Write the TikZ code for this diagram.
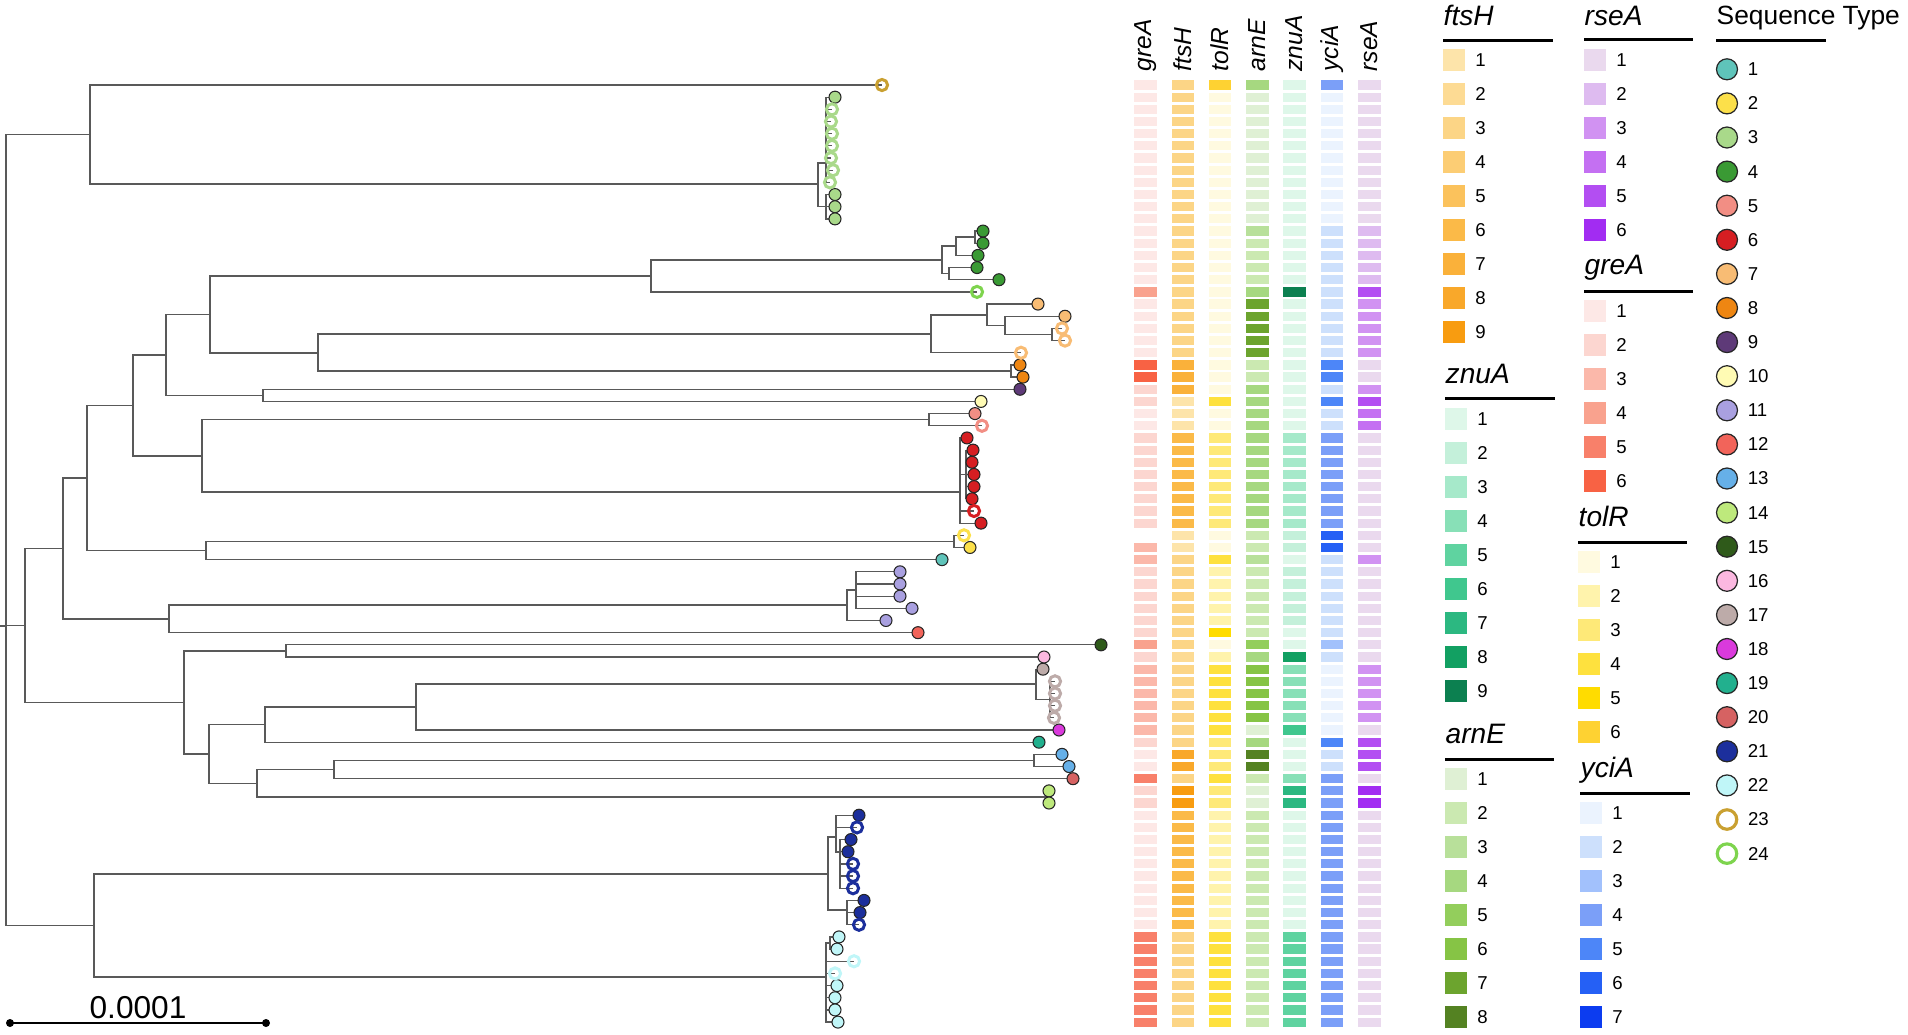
\documentclass[tikz,border=0pt]{standalone}
\usepackage{fontspec}
\setmainfont{Liberation Sans}
\usetikzlibrary{positioning}

\definecolor{st1}{HTML}{5FC4BA}
\definecolor{st2}{HTML}{FCE04A}
\definecolor{st3}{HTML}{A9D98A}
\definecolor{st4}{HTML}{3A9A34}
\definecolor{st5}{HTML}{F28E84}
\definecolor{st6}{HTML}{D61E22}
\definecolor{st7}{HTML}{F8BC74}
\definecolor{st8}{HTML}{EE8612}
\definecolor{st9}{HTML}{5E3A78}
\definecolor{st10}{HTML}{FFFBB4}
\definecolor{st11}{HTML}{A9A0E0}
\definecolor{st12}{HTML}{F2645A}
\definecolor{st13}{HTML}{66B0E8}
\definecolor{st14}{HTML}{BEE97C}
\definecolor{st15}{HTML}{2F5A1A}
\definecolor{st16}{HTML}{FBB8E0}
\definecolor{st17}{HTML}{BDABA9}
\definecolor{st18}{HTML}{DA3ADC}
\definecolor{st19}{HTML}{22B08E}
\definecolor{st20}{HTML}{D66262}
\definecolor{st21}{HTML}{1C2F9C}
\definecolor{st22}{HTML}{C0F6F8}
\definecolor{st23}{HTML}{C9A031}
\definecolor{st24}{HTML}{7ED44E}

\definecolor{fts1}{HTML}{FDE4AA}
\definecolor{fts2}{HTML}{FDDB94}
\definecolor{fts3}{HTML}{FCD586}
\definecolor{fts4}{HTML}{FCCD74}
\definecolor{fts5}{HTML}{FBC25C}
\definecolor{fts6}{HTML}{FBBA48}
\definecolor{fts7}{HTML}{FAB13A}
\definecolor{fts8}{HTML}{F9A82A}
\definecolor{fts9}{HTML}{F89C10}
\definecolor{rse1}{HTML}{EAD9EE}
\definecolor{rse2}{HTML}{DEBBF0}
\definecolor{rse3}{HTML}{D192F2}
\definecolor{rse4}{HTML}{C470F2}
\definecolor{rse5}{HTML}{B34EF2}
\definecolor{rse6}{HTML}{A22CF2}
\definecolor{gre1}{HTML}{FDE8E6}
\definecolor{gre2}{HTML}{FCD6D0}
\definecolor{gre3}{HTML}{FBB8AA}
\definecolor{gre4}{HTML}{F9A28E}
\definecolor{gre5}{HTML}{F8806A}
\definecolor{gre6}{HTML}{F86244}
\definecolor{znu1}{HTML}{DEF7E9}
\definecolor{znu2}{HTML}{C4F0DA}
\definecolor{znu3}{HTML}{A6E9CA}
\definecolor{znu4}{HTML}{88E0B7}
\definecolor{znu5}{HTML}{5FD3A0}
\definecolor{znu6}{HTML}{40C78E}
\definecolor{znu7}{HTML}{2CB881}
\definecolor{znu8}{HTML}{12A062}
\definecolor{znu9}{HTML}{0C8050}
\definecolor{tol1}{HTML}{FFFAE0}
\definecolor{tol2}{HTML}{FFF3AC}
\definecolor{tol3}{HTML}{FEE978}
\definecolor{tol4}{HTML}{FEE13E}
\definecolor{tol5}{HTML}{FFDC00}
\definecolor{tol6}{HTML}{FED232}
\definecolor{arn1}{HTML}{DFF0D4}
\definecolor{arn2}{HTML}{CBE9B1}
\definecolor{arn3}{HTML}{B8E09A}
\definecolor{arn4}{HTML}{A6D880}
\definecolor{arn5}{HTML}{93CE5C}
\definecolor{arn6}{HTML}{86C445}
\definecolor{arn7}{HTML}{6CA42E}
\definecolor{arn8}{HTML}{548222}
\definecolor{yci1}{HTML}{EBF3FE}
\definecolor{yci2}{HTML}{CDE0FC}
\definecolor{yci3}{HTML}{A2C1FC}
\definecolor{yci4}{HTML}{7B9FF8}
\definecolor{yci5}{HTML}{4D86F8}
\definecolor{yci6}{HTML}{2560F5}
\definecolor{yci7}{HTML}{0C3CF0}

\begin{document}
\begin{tikzpicture}[x=0.1mm,y=-0.1mm]

\tikzstyle{branch} = [draw=black!65, line width=0.35pt]
\tikzstyle{leaf} = [circle, inner sep=0pt, minimum size=1.2mm, draw=black!85, line width=0.3pt]
\tikzstyle{ring} = [circle, inner sep=0pt, minimum size=1.12mm, line width=0.85pt]
\tikzstyle{cell} = [rectangle, inner sep=0pt, minimum width=2.25mm, minimum height=0.92mm]
\tikzstyle{gene} = [font=\fontsize{7}{8}\selectfont\itshape, inner sep=0pt]
\tikzstyle{ltitle} = [font=\fontsize{8}{9}\selectfont\itshape, inner sep=0pt, anchor=base west]
\tikzstyle{lsq} = [rectangle, inner sep=0pt, minimum size=2.2mm]
\tikzstyle{num} = [font=\fontsize{5.3}{6}\selectfont, inner sep=0pt]
\tikzstyle{uline} = [line width=0.85pt]
\tikzstyle{ldot} = [circle, inner sep=0pt, minimum size=2.1mm, draw=black!85, line width=0.35pt]
\tikzstyle{lring} = [circle, inner sep=0pt, minimum size=1.95mm, line width=0.9pt]

\useasboundingbox (0,0) rectangle (1908,1034);

% tips
\foreach \r/\x in {1/882, 2/835, 3/832, 4/831, 5/832, 6/832, 7/831, 8/833, 9/830, 10/835,
  11/835, 12/835, 13/983, 14/983, 15/978, 16/977, 17/999, 18/977, 19/1038, 20/1065,
  21/1062, 22/1065, 23/1021, 24/1020, 25/1023, 26/1020, 27/981, 28/975, 29/982, 30/967,
  31/973, 32/972, 33/974, 34/974, 35/972, 36/974, 37/981, 38/964, 39/970, 40/942,
  41/900, 42/900, 43/900, 44/912, 45/886, 46/918, 47/1101, 48/1044, 49/1043, 50/1055,
  51/1055, 52/1055, 53/1054, 54/1059, 55/1039, 56/1062, 57/1069, 58/1073, 59/1049, 60/1049,
  61/859, 62/857, 63/851, 64/848, 65/853, 66/853, 67/853, 68/864, 69/860, 70/859,
  71/839, 72/837, 73/854, 74/835, 75/837, 76/835, 77/835, 78/838}
  \coordinate (l\r) at (\x, {85+(\r-1)*12.17});

% inner nodes
\coordinate (rt0) at (0, 626);
\coordinate (rt) at (6, 626);
\coordinate (tc) at (90, 134.5);
\coordinate (u) at (818, 184);
\coordinate (v) at (826, 163);
\coordinate (w) at (826, 206.7);
\coordinate (na) at (25, 625.5);
\coordinate (nb) at (63, 548.5);
\coordinate (nc) at (87, 478);
\coordinate (ne) at (133, 405.5);
\coordinate (ng) at (166, 355);
\coordinate (ni) at (210, 314.5);
\coordinate (nk) at (651, 276);
\coordinate (x1) at (942, 260);
\coordinate (x2) at (956, 246);
\coordinate (x3) at (975, 237);
\coordinate (x4) at (949, 273.7);
\coordinate (nj) at (318, 353);
\coordinate (y1) at (931, 334);
\coordinate (y2) at (987, 315);
\coordinate (y3) at (1005, 325.5);
\coordinate (y4) at (1052, 334.5);
\coordinate (y5) at (1011, 371);
\coordinate (nh) at (263, 395.4);
\coordinate (nf) at (202, 456);
\coordinate (z1) at (929, 419.7);
\coordinate (z2) at (960, 492);
\coordinate (z3) at (966, 474.4);
\coordinate (nd) at (206, 550.5);
\coordinate (z4) at (954, 541.4);
\coordinate (nb2) at (169, 619);
\coordinate (z5) at (847, 605);
\coordinate (z6) at (856, 590);
\coordinate (nm) at (184, 702.5);
\coordinate (nn) at (286, 651);
\coordinate (no) at (209, 754);
\coordinate (np) at (265, 724.6);
\coordinate (nq) at (416, 707);
\coordinate (q1) at (1036, 684);
\coordinate (q2) at (1050, 699.6);
\coordinate (nr) at (257, 783.3);
\coordinate (ns) at (334, 769.6);
\coordinate (s1) at (1034, 760.5);
\coordinate (s2) at (1046, 797);
\coordinate (nt) at (94, 925.5);
\coordinate (t1) at (828, 874);
\coordinate (t2) at (836, 837);
\coordinate (t4) at (840, 852);
\coordinate (t3) at (847, 910);
\coordinate (t5) at (826, 977);
\coordinate (t6) at (830, 943);

\draw[branch] (rt0) -- (rt);
\foreach \p/\c in {rt/tc, rt/na, rt/nt, tc/l1, tc/u, u/v, u/w,
  v/l2, v/l3, v/l4, v/l5, v/l6, v/l7, v/l8, v/l9, w/l10, w/l11, w/l12,
  na/nb, na/nm, nb/nc, nb/nb2, nc/ne, nc/nd, ne/ng, ne/nf, ng/ni, ng/nh,
  ni/nk, ni/nj, nk/x1, nk/l18, x1/x2, x1/x4, x2/x3, x2/l15, x3/l13, x3/l14,
  x4/l16, x4/l17, nj/y1, nj/y5, y1/y2, y1/l23, y2/l19, y2/y3, y3/l20, y3/y4,
  y4/l21, y4/l22, y5/l24, y5/l25, nh/l26, nh/l27, nf/z1, nf/z2, z1/l28, z1/l29,
  z2/l30, z2/z3, z2/l36, z2/l37, z3/l31, z3/l32, z3/l33, z3/l34, z3/l35,
  nd/z4, nd/l40, z4/l38, z4/l39, nb2/z5, nb2/l46, z5/z6, z5/l45,
  z6/l41, z6/l42, z6/l43, z6/l44, nm/nn, nm/no, nn/l47, nn/l48,
  no/np, no/nr, np/nq, np/l55, nq/q1, nq/l54, q1/l49, q1/q2,
  q2/l50, q2/l51, q2/l52, q2/l53, nr/ns, nr/s2, ns/s1, ns/l58,
  s1/l56, s1/l57, s2/l59, s2/l60, nt/t1, nt/t5, t1/t2, t1/t3,
  t2/l61, t2/l62, t2/t4, t4/l63, t4/l64, t4/l65, t4/l66, t4/l67,
  t3/l68, t3/l69, t3/l70, t5/t6, t5/l73, t5/l74, t5/l75, t5/l76, t5/l77, t5/l78,
  t6/l71, t6/l72}
  \draw[branch] (\p) |- (\c);

\foreach \r/\c in {2/st3, 10/st3, 11/st3, 12/st3, 13/st4, 14/st4, 15/st4, 16/st4, 17/st4,
  19/st7, 20/st7, 24/st8, 25/st8, 26/st9, 27/st10, 28/st5, 30/st6, 31/st6, 32/st6,
  33/st6, 34/st6, 35/st6, 37/st6, 39/st2, 40/st1, 41/st11, 42/st11, 43/st11, 44/st11,
  45/st11, 46/st12, 47/st15, 48/st16, 49/st17, 54/st18, 55/st19, 56/st13, 57/st13,
  58/st20, 59/st14, 60/st14, 61/st21, 63/st21, 64/st21, 68/st21, 69/st21,
  71/st22, 72/st22, 75/st22, 76/st22, 77/st22, 78/st22}
  \node[leaf, fill=\c] (c\r) at (l\r) {};

\foreach \r/\c in {1/st23, 3/st3, 4/st3, 5/st3, 6/st3, 7/st3, 8/st3, 9/st3, 18/st24,
  21/st7, 22/st7, 23/st7, 29/st5, 36/st6, 38/st2, 50/st17, 51/st17, 52/st17, 53/st17,
  62/st21, 65/st21, 66/st21, 67/st21, 70/st21, 73/st22, 74/st22}
  \node[ring, draw=\c] (c\r) at (l\r) {};

% scale
\coordinate (sb0) at (10, 1023);
\coordinate (sb1) at (266, 1023);
\draw[line width=0.5pt] (sb0) -- (sb1);
\fill (sb0) circle[radius=4];
\fill (sb1) circle[radius=4];
\node[font=\fontsize{9}{10}\selectfont, anchor=base, inner sep=0pt] (sbl) at (138, 1018) {0.0001};

% heatmap
\node[gene, rotate=90, anchor=west] (hgre) at (1145.5, 72) {greA};
\node[gene, rotate=90, anchor=west] (hfts) at (1183, 72) {ftsH};
\node[gene, rotate=90, anchor=west] (htol) at (1220, 72) {tolR};
\node[gene, rotate=90, anchor=west] (harn) at (1257.5, 72) {arnE};
\node[gene, rotate=90, anchor=west] (hznu) at (1294.5, 72) {znuA};
\node[gene, rotate=90, anchor=west] (hyci) at (1332, 72) {yciA};
\node[gene, rotate=90, anchor=west] (hrse) at (1369.5, 72) {rseA};

\foreach \a/\b/\v in {1/17/1, 18/18/4, 19/23/1, 24/25/6, 26/27/2, 28/29/1, 30/37/2,
  39/40/3, 41/46/2, 47/47/4, 48/48/2, 49/54/3, 55/55/2, 56/57/1, 58/58/5, 59/60/2,
  61/70/1, 71/78/5}
  \foreach \r in {\a,...,\b}
    \node[cell, fill=gre\v] (cgre\r) at (1145.5, {85+(\r-1)*12.17}) {};

\foreach \a/\b/\v in {1/23/3, 24/26/7, 27/29/1, 30/37/6, 38/39/1, 40/47/3, 48/48/2,
  49/55/3, 56/57/8, 58/58/3, 59/60/9, 61/70/6, 71/78/3}
  \foreach \r in {\a,...,\b}
    \node[cell, fill=fts\v] (cfts\r) at (1183, {85+(\r-1)*12.17}) {};

\foreach \a/\b/\v in {1/1/6, 2/26/1, 27/27/4, 28/29/1, 30/37/3, 38/39/1, 40/40/4,
  41/45/2, 46/46/5, 47/47/1, 48/48/2, 49/54/4, 55/57/3, 58/58/4, 59/60/3, 61/70/2, 71/78/4}
  \foreach \r in {\a,...,\b}
    \node[cell, fill=tol\v] (ctol\r) at (1220, {85+(\r-1)*12.17}) {};

\foreach \a/\b/\v in {1/1/4, 2/12/1, 13/13/3, 14/17/2, 18/18/4, 19/23/7, 24/25/2,
  26/37/4, 38/39/2, 40/40/3, 41/46/2, 47/47/5, 48/48/4, 49/53/6, 54/54/1, 55/55/4,
  56/57/8, 58/58/2, 59/60/1, 61/78/2}
  \foreach \r in {\a,...,\b}
    \node[cell, fill=arn\v] (carn\r) at (1257.5, {85+(\r-1)*12.17}) {};

\foreach \a/\b/\v in {1/17/1, 18/18/9, 19/29/1, 30/37/3, 38/39/2, 40/40/1, 41/45/2,
  46/47/1, 48/48/8, 49/53/4, 54/54/6, 55/57/1, 58/58/4, 59/60/7, 61/70/1, 71/78/5}
  \foreach \r in {\a,...,\b}
    \node[cell, fill=znu\v] (cznu\r) at (1294.5, {85+(\r-1)*12.17}) {};

\foreach \a/\b/\v in {1/1/4, 2/12/1, 13/23/2, 24/25/5, 26/26/2, 27/27/5, 28/29/2,
  30/37/4, 38/39/6, 40/46/2, 47/47/3, 48/48/2, 49/54/1, 55/55/5, 56/57/2, 58/78/4}
  \foreach \r in {\a,...,\b}
    \node[cell, fill=yci\v] (cyci\r) at (1332, {85+(\r-1)*12.17}) {};

\foreach \a/\b/\v in {1/12/1, 13/17/2, 18/18/5, 19/23/3, 24/25/1, 26/26/3, 27/27/5,
  28/29/4, 30/39/1, 40/40/3, 41/48/1, 49/53/3, 54/54/1, 55/57/5, 58/58/1, 59/60/6, 61/78/1}
  \foreach \r in {\a,...,\b}
    \node[cell, fill=rse\v] (crse\r) at (1369.5, {85+(\r-1)*12.17}) {};

% legends
\node[ltitle] (tfts) at (1443, 25) {ftsH};
\draw[uline] (1443, 40) -- (1553, 40);
\foreach \k in {1,...,9} {
  \node[lsq, fill=fts\k] (lfts\k) at (1454, {60+(\k-1)*34}) {};
  \node[num, right=0.9mm of lfts\k] (nfts\k) {\k};
}

\node[ltitle] (tznu) at (1445, 383) {znuA};
\draw[uline] (1445, 398) -- (1555, 398);
\foreach \k in {1,...,9} {
  \node[lsq, fill=znu\k] (lznu\k) at (1456, {419+(\k-1)*34}) {};
  \node[num, right=0.9mm of lznu\k] (nznu\k) {\k};
}

\node[ltitle] (tarn) at (1445, 743) {arnE};
\draw[uline] (1445, 759) -- (1554, 759);
\foreach \k in {1,...,8} {
  \node[lsq, fill=arn\k] (larn\k) at (1456, {779+(\k-1)*34}) {};
  \node[num, right=0.9mm of larn\k] (narn\k) {\k};
}

\node[ltitle] (trse) at (1584, 25) {rseA};
\draw[uline] (1584, 39) -- (1693, 39);
\foreach \k in {1,...,6} {
  \node[lsq, fill=rse\k] (lrse\k) at (1595, {60+(\k-1)*34}) {};
  \node[num, right=0.9mm of lrse\k] (nrse\k) {\k};
}

\node[ltitle] (tgre) at (1584, 274) {greA};
\draw[uline] (1584, 291) -- (1693, 291);
\foreach \k in {1,...,6} {
  \node[lsq, fill=gre\k] (lgre\k) at (1595, {311+(\k-1)*34}) {};
  \node[num, right=0.9mm of lgre\k] (ngre\k) {\k};
}

\node[ltitle] (ttol) at (1578, 526) {tolR};
\draw[uline] (1578, 542) -- (1687, 542);
\foreach \k in {1,...,6} {
  \node[lsq, fill=tol\k] (ltol\k) at (1589, {562+(\k-1)*34}) {};
  \node[num, right=0.9mm of ltol\k] (ntol\k) {\k};
}

\node[ltitle] (tyci) at (1580, 777) {yciA};
\draw[uline] (1580, 793) -- (1690, 793);
\foreach \k in {1,...,7} {
  \node[lsq, fill=yci\k] (lyci\k) at (1591, {813+(\k-1)*34}) {};
  \node[num, right=0.9mm of lyci\k] (nyci\k) {\k};
}

\node[font=\fontsize{7.5}{9}\selectfont, inner sep=0pt, anchor=base west] (tst) at (1716, 24) {Sequence Type};
\draw[uline] (1716, 40) -- (1826, 40);
\foreach \k in {1,...,22} {
  \node[ldot, fill=st\k] (lst\k) at (1727, {69.3+(\k-1)*34.1}) {};
  \node[num, right=0.9mm of lst\k] (nst\k) {\k};
}
\foreach \k in {23,24} {
  \node[lring, draw=st\k] (lst\k) at (1727, {69.3+(\k-1)*34.1}) {};
  \node[num, right=0.9mm of lst\k] (nst\k) {\k};
}

\end{tikzpicture}
\end{document}
